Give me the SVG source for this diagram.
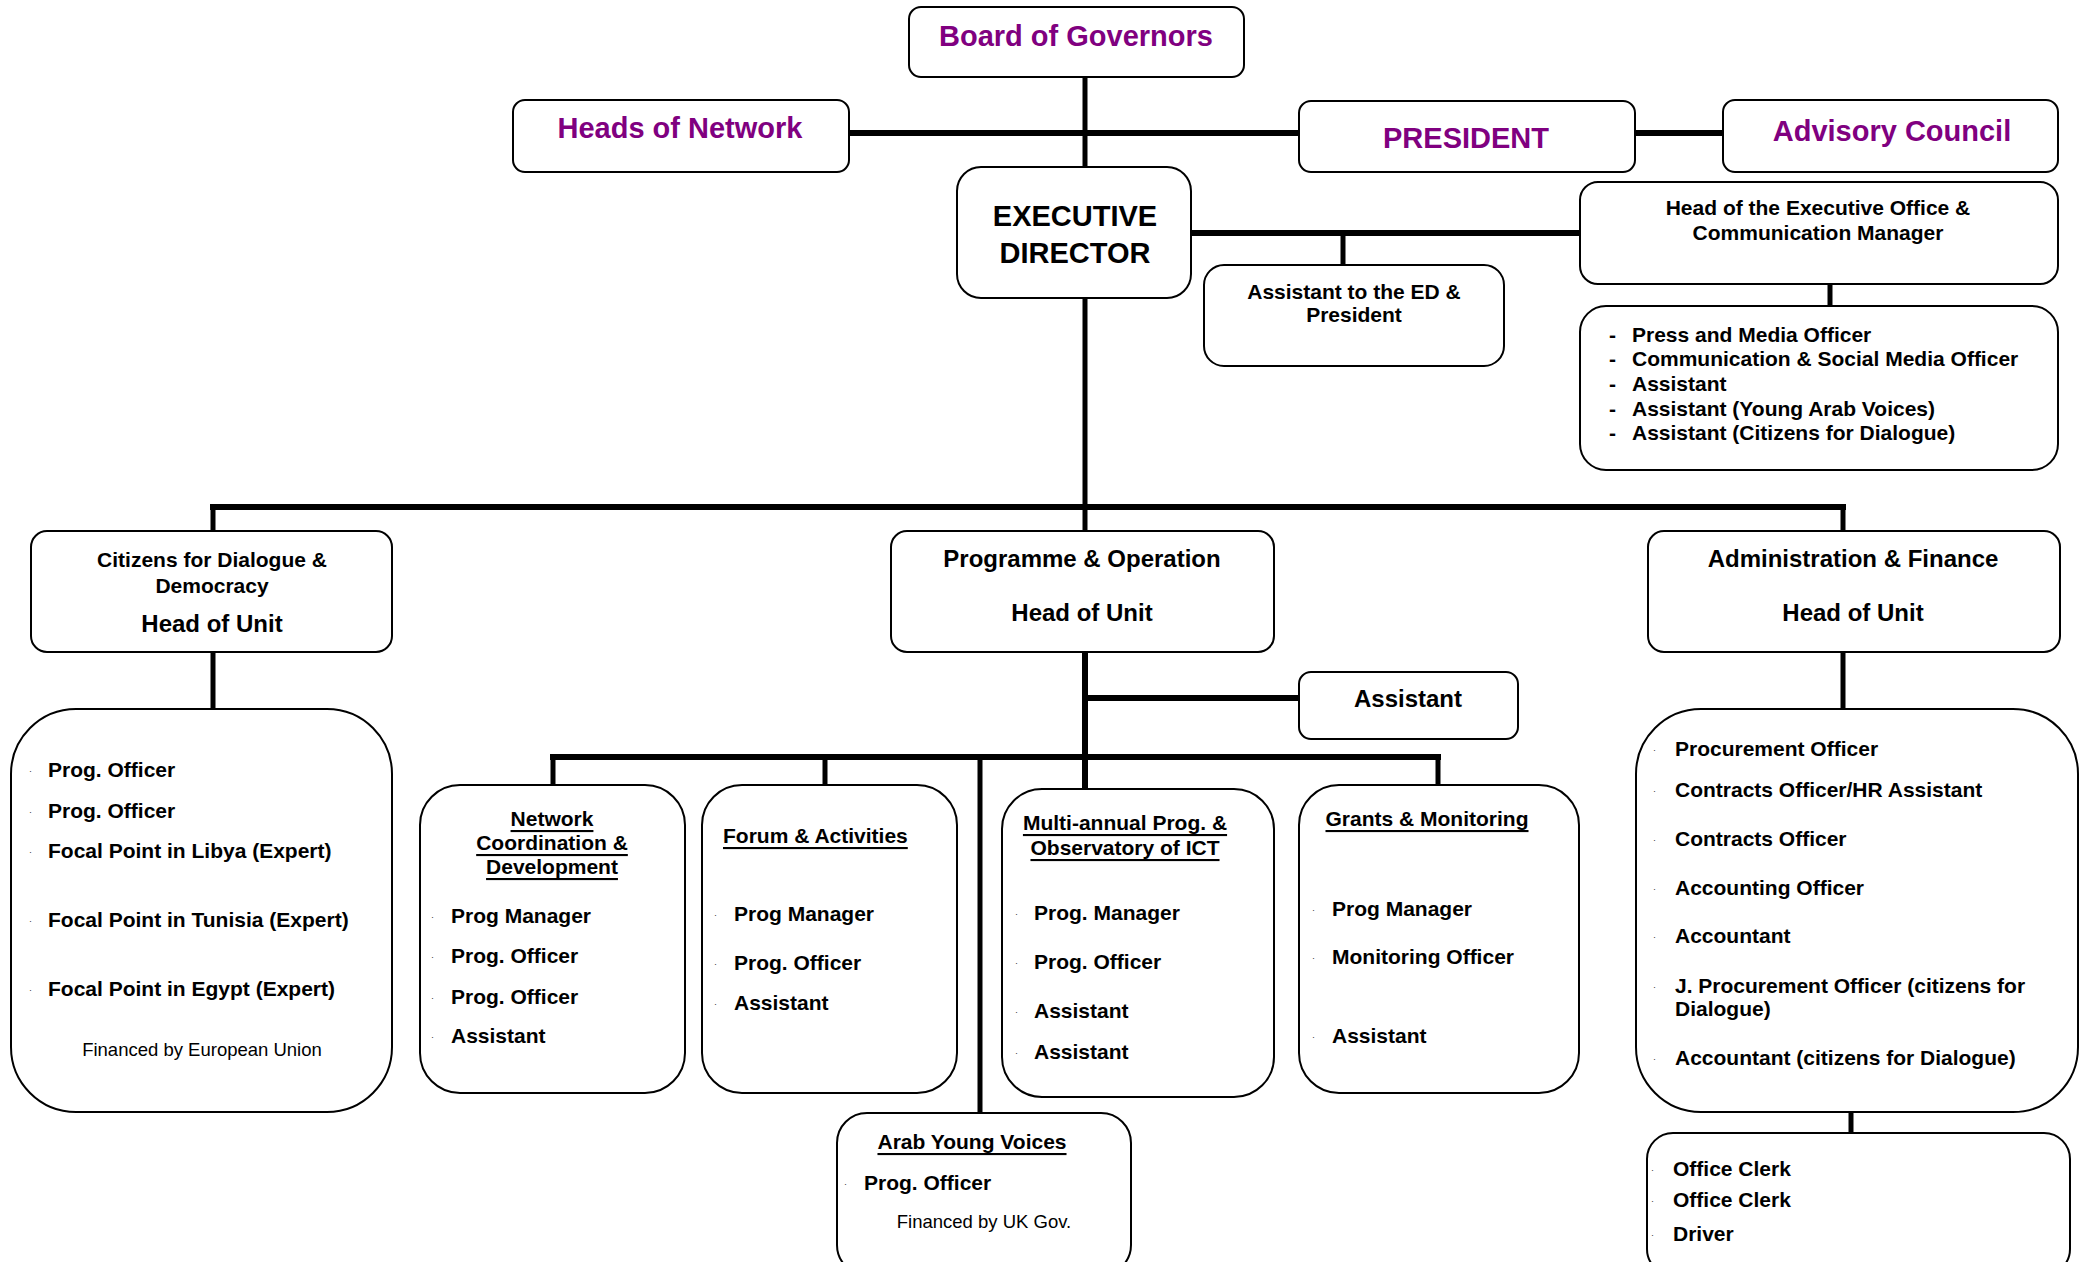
<svg xmlns="http://www.w3.org/2000/svg" width="2089" height="1262" viewBox="0 0 2089 1262">
<style>
.box{fill:#fff;stroke:#000;stroke-width:2}
.ln{stroke:#000;fill:none}
text{transform:translateY(-1.5px)}
.t{font-family:"Liberation Sans",Arial,sans-serif;font-weight:bold;font-size:21px;fill:#000;dominant-baseline:central}
.c{text-anchor:middle}
.p{font-size:29px;fill:#800080}
.big{font-size:29px}
.h{font-size:24px}
.u{text-decoration:underline}
.r{font-weight:normal;font-size:18.5px}
.b{font-family:"Liberation Sans",Arial,sans-serif;font-size:9px;fill:#333;dominant-baseline:central}
</style>
<rect width="2089" height="1262" fill="#fff"/>
<g id="connectors">
<line class="ln" x1="1085" y1="77" x2="1085" y2="167" stroke-width="5"/>
<line class="ln" x1="849" y1="133" x2="1299" y2="133" stroke-width="6"/>
<line class="ln" x1="1635" y1="133" x2="1723" y2="133" stroke-width="6"/>
<line class="ln" x1="1191" y1="233" x2="1580" y2="233" stroke-width="6"/>
<line class="ln" x1="1343" y1="233" x2="1343" y2="265" stroke-width="5"/>
<line class="ln" x1="1830" y1="284" x2="1830" y2="306" stroke-width="5"/>
<line class="ln" x1="1085" y1="298" x2="1085" y2="507" stroke-width="5"/>
<line class="ln" x1="210" y1="507" x2="1846" y2="507" stroke-width="6"/>
<line class="ln" x1="213" y1="504" x2="213" y2="531" stroke-width="5"/>
<line class="ln" x1="1085" y1="507" x2="1085" y2="531" stroke-width="5"/>
<line class="ln" x1="1843" y1="504" x2="1843" y2="531" stroke-width="5"/>
<line class="ln" x1="213" y1="652" x2="213" y2="709" stroke-width="5"/>
<line class="ln" x1="1085" y1="652" x2="1085" y2="789" stroke-width="6"/>
<line class="ln" x1="1085" y1="698" x2="1299" y2="698" stroke-width="6"/>
<line class="ln" x1="550" y1="757" x2="1441" y2="757" stroke-width="6"/>
<line class="ln" x1="553" y1="757" x2="553" y2="785" stroke-width="5"/>
<line class="ln" x1="825" y1="757" x2="825" y2="785" stroke-width="5"/>
<line class="ln" x1="980" y1="757" x2="980" y2="1113" stroke-width="5"/>
<line class="ln" x1="1438" y1="757" x2="1438" y2="785" stroke-width="5"/>
<line class="ln" x1="1843" y1="652" x2="1843" y2="709" stroke-width="5"/>
<line class="ln" x1="1851" y1="1112" x2="1851" y2="1133" stroke-width="5"/>
</g>
<g id="board">
<rect class="box" x="909" y="7" width="335" height="70" rx="12"/>
<text class="t p c" x="1076" y="37">Board of Governors</text>
</g>
<g id="heads-network">
<rect class="box" x="513" y="100" width="336" height="72" rx="12"/>
<text class="t p c" x="680" y="129">Heads of Network</text>
</g>
<g id="president">
<rect class="box" x="1299" y="101" width="336" height="71" rx="12"/>
<text class="t p c" x="1466" y="139">PRESIDENT</text>
</g>
<g id="advisory">
<rect class="box" x="1723" y="100" width="335" height="72" rx="12"/>
<text class="t p c" x="1892" y="132">Advisory Council</text>
</g>
<g id="ed">
<rect class="box" x="957" y="167" width="234" height="131" rx="24"/>
<text class="t big c" x="1075" y="217">EXECUTIVE</text>
<text class="t big c" x="1075" y="254">DIRECTOR</text>
</g>
<g id="asst-ed">
<rect class="box" x="1204" y="265" width="300" height="101" rx="20"/>
<text class="t c" x="1354" y="293">Assistant to the ED &amp;</text>
<text class="t c" x="1354" y="316">President</text>
</g>
<g id="head-exec">
<rect class="box" x="1580" y="182" width="478" height="102" rx="18"/>
<text class="t c" x="1818" y="209">Head of the Executive Office &amp;</text>
<text class="t c" x="1818" y="234">Communication Manager</text>
</g>
<g id="exec-staff">
<rect class="box" x="1580" y="306" width="478" height="164" rx="26"/>
<text class="t" x="1609" y="336">-</text><text class="t" x="1632" y="336">Press and Media Officer</text>
<text class="t" x="1609" y="360">-</text><text class="t" x="1632" y="360">Communication &amp; Social Media Officer</text>
<text class="t" x="1609" y="385">-</text><text class="t" x="1632" y="385">Assistant</text>
<text class="t" x="1609" y="410">-</text><text class="t" x="1632" y="410">Assistant (Young Arab Voices)</text>
<text class="t" x="1609" y="434">-</text><text class="t" x="1632" y="434">Assistant (Citizens for Dialogue)</text>
</g>
<g id="citizens">
<rect class="box" x="31" y="531" width="361" height="121" rx="16"/>
<text class="t c" x="212" y="561">Citizens for Dialogue &amp;</text>
<text class="t c" x="212" y="587">Democracy</text>
<text class="t h c" x="212" y="625">Head of Unit</text>
</g>
<g id="programme">
<rect class="box" x="891" y="531" width="383" height="121" rx="16"/>
<text class="t h c" x="1082" y="560">Programme &amp; Operation</text>
<text class="t h c" x="1082" y="614">Head of Unit</text>
</g>
<g id="admin">
<rect class="box" x="1648" y="531" width="412" height="121" rx="16"/>
<text class="t h c" x="1853" y="560">Administration &amp; Finance</text>
<text class="t h c" x="1853" y="614">Head of Unit</text>
</g>
<g id="citizens-staff">
<rect class="box" x="11" y="709" width="381" height="403" rx="65"/>
<text class="b" x="29" y="772">·</text><text class="t" x="48" y="771">Prog. Officer</text>
<text class="b" x="29" y="813">·</text><text class="t" x="48" y="812">Prog. Officer</text>
<text class="b" x="29" y="853">·</text><text class="t" x="48" y="852">Focal Point in Libya (Expert)</text>
<text class="b" x="29" y="922">·</text><text class="t" x="48" y="921">Focal Point in Tunisia (Expert)</text>
<text class="b" x="29" y="991">·</text><text class="t" x="48" y="990">Focal Point in Egypt (Expert)</text>
<text class="t r c" x="202" y="1051">Financed by European Union</text>
</g>
<g id="prog-assistant">
<rect class="box" x="1299" y="672" width="219" height="67" rx="12"/>
<text class="t h c" x="1408" y="700">Assistant</text>
</g>
<g id="network">
<rect class="box" x="420" y="785" width="265" height="308" rx="40"/>
<text class="t c u" x="552" y="820">Network</text>
<text class="t c u" x="552" y="844">Coordination &amp;</text>
<text class="t c u" x="552" y="868">Development</text>
<text class="b" x="431" y="918">·</text><text class="t" x="451" y="917">Prog Manager</text>
<text class="b" x="431" y="958">·</text><text class="t" x="451" y="957">Prog. Officer</text>
<text class="b" x="431" y="999">·</text><text class="t" x="451" y="998">Prog. Officer</text>
<text class="b" x="431" y="1038">·</text><text class="t" x="451" y="1037">Assistant</text>
</g>
<g id="forum">
<rect class="box" x="702" y="785" width="255" height="308" rx="40"/>
<text class="t u" x="723" y="837">Forum &amp; Activities</text>
<text class="b" x="714" y="916">·</text><text class="t" x="734" y="915">Prog Manager</text>
<text class="b" x="714" y="965">·</text><text class="t" x="734" y="964">Prog. Officer</text>
<text class="b" x="714" y="1005">·</text><text class="t" x="734" y="1004">Assistant</text>
</g>
<g id="multi-annual">
<rect class="box" x="1002" y="789" width="272" height="308" rx="40"/>
<text class="t c u" x="1125" y="824">Multi-annual Prog. &amp;</text>
<text class="t c u" x="1125" y="849">Observatory of ICT</text>
<text class="b" x="1015" y="915">·</text><text class="t" x="1034" y="914">Prog. Manager</text>
<text class="b" x="1015" y="964">·</text><text class="t" x="1034" y="963">Prog. Officer</text>
<text class="b" x="1015" y="1013">·</text><text class="t" x="1034" y="1012">Assistant</text>
<text class="b" x="1015" y="1054">·</text><text class="t" x="1034" y="1053">Assistant</text>
</g>
<g id="grants">
<rect class="box" x="1299" y="785" width="280" height="308" rx="40"/>
<text class="t c u" x="1427" y="820">Grants &amp; Monitoring</text>
<text class="b" x="1312" y="911">·</text><text class="t" x="1332" y="910">Prog Manager</text>
<text class="b" x="1312" y="959">·</text><text class="t" x="1332" y="958">Monitoring Officer</text>
<text class="b" x="1312" y="1038">·</text><text class="t" x="1332" y="1037">Assistant</text>
</g>
<g id="arab-young-voices">
<rect class="box" x="837" y="1113" width="294" height="162" rx="30"/>
<text class="t c u" x="972" y="1143">Arab Young Voices</text>
<text class="b" x="844" y="1185">·</text><text class="t" x="864" y="1184">Prog. Officer</text>
<text class="t r c" x="984" y="1223">Financed by UK Gov.</text>
</g>
<g id="admin-staff">
<rect class="box" x="1636" y="709" width="442" height="403" rx="65"/>
<text class="b" x="1653" y="751">·</text><text class="t" x="1675" y="750">Procurement Officer</text>
<text class="b" x="1653" y="792">·</text><text class="t" x="1675" y="791">Contracts Officer/HR Assistant</text>
<text class="b" x="1653" y="841">·</text><text class="t" x="1675" y="840">Contracts Officer</text>
<text class="b" x="1653" y="890">·</text><text class="t" x="1675" y="889">Accounting Officer</text>
<text class="b" x="1653" y="938">·</text><text class="t" x="1675" y="937">Accountant</text>
<text class="b" x="1653" y="988">·</text><text class="t" x="1675" y="987">J. Procurement Officer (citizens for</text>
<text class="t" x="1675" y="1010">Dialogue)</text>
<text class="b" x="1653" y="1060">·</text><text class="t" x="1675" y="1059">Accountant (citizens for Dialogue)</text>
</g>
<g id="support-staff">
<rect class="box" x="1647" y="1133" width="423" height="142" rx="26"/>
<text class="b" x="1651" y="1171">·</text><text class="t" x="1673" y="1170">Office Clerk</text>
<text class="b" x="1651" y="1202">·</text><text class="t" x="1673" y="1201">Office Clerk</text>
<text class="b" x="1651" y="1236">·</text><text class="t" x="1673" y="1235">Driver</text>
</g>
</svg>
